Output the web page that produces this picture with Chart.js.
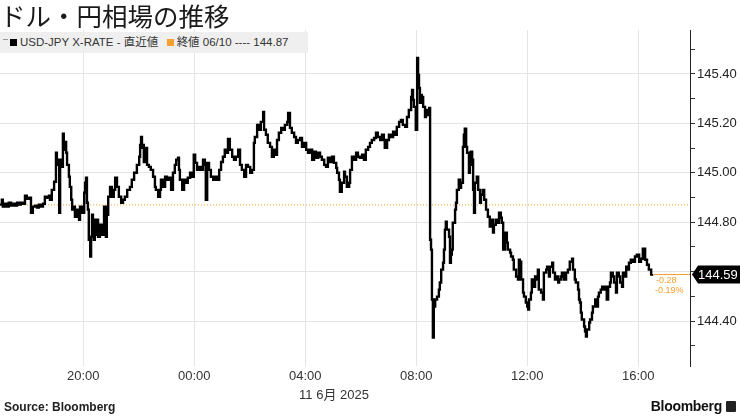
<!DOCTYPE html>
<html>
<head>
<meta charset="utf-8">
<script src="https://cdn.jsdelivr.net/npm/chart.js@4.4.1/dist/chart.umd.min.js"></script>
<style>
body{margin:0;background:#fff;width:740px;height:416px;overflow:hidden;position:relative;font-family:"Liberation Sans",Arial,sans-serif;}
canvas{position:absolute;left:0;top:0;}
#title{position:absolute;left:0;top:-1px;font-family:"Noto Sans CJK JP",sans-serif;font-size:25.5px;color:#1a1a1a;line-height:32px;}
#legend{position:absolute;left:0;top:32px;width:308px;height:21px;background:#efefef;font-size:11.5px;color:#333;line-height:21px;white-space:nowrap;font-family:"Liberation Sans","Noto Sans CJK JP",sans-serif;}
#legend .sq{display:inline-block;width:7px;height:7px;margin:0 3px 0 2px;vertical-align:0px;}
#legend .ico{display:inline-block;width:5px;height:6px;border-top:1px solid #999;margin-left:3px;position:relative;top:0px;}
#date{position:absolute;left:274px;width:120px;top:384px;text-align:center;font-size:13px;color:#333;font-family:"Liberation Sans","Noto Sans CJK JP",sans-serif;}
#source{position:absolute;left:4px;top:400px;font-size:12px;font-weight:bold;color:#222;}
#brand{position:absolute;right:18px;top:398px;font-size:14px;font-weight:bold;color:#111;letter-spacing:-0.3px;}
#brandIco{position:absolute;right:4px;top:401px;width:10px;height:11px;background:#222;border-radius:1px;}
</style>
</head>
<body>
<canvas id="c" width="740" height="416"></canvas>
<div id="title">ドル・円相場の推移</div>
<div id="legend"><span class="ico"></span><span class="sq" style="background:#000"></span>USD-JPY X-RATE - 直近値 &nbsp;<span class="sq" style="background:#f5a030"></span>終値 06/10 ---- 144.87</div>
<div id="date">11 6月 2025</div>
<div id="source">Source: Bloomberg</div>
<div id="brand">Bloomberg</div>
<div id="brandIco"></div>
<script>
// minutes since 06/10 00:00 (JST)
var times = [1020,1024,1026,1031,1035,1039,1044,1048,1052,1057,1061,1065,1070,1074,1078,1083,1087,1091,1096,1100,1104,1109,1113,1117,1122,1126,1128,1132,1137,1141,1143,1145,1148,1150,1154,1156,1158,1161,1163,1165,1169,1171,1174,1176,1178,1182,1186,1191,1193,1197,
1202,1204,1206,1208,1210,1212,1215,1217,1219,1221,1223,1225,1228,1230,1232,1236,1241,1245,1249,1251,1254,1258,1262,1266,1269,1273,1277,1282,1286,1290,1295,1301,1305,1310,1316,1321,1323,1325,1327,1329,1331,1334,1338,1342,1346,1351,1355,1357,1362,1366,
1368,1372,1377,1381,1385,1390,1394,1398,1401,1405,1407,1409,1414,1418,1422,1426,1431,1435,1439,1442,1446,1450,1455,1459,1463,1465,1468,1472,1476,1481,1485,1489,1494,1498,1502,1506,1511,1513,1517,1522,1526,1530,1535,1539,1543,1548,1552,1556,1561,1565,
1569,1571,1576,1580,1584,1589,1591,1595,1599,1604,1608,1612,1615,1619,1623,1628,1632,1636,1641,1643,1647,1651,1656,1660,1664,1669,1673,1677,1682,1686,1690,1695,1699,1703,1708,1712,1716,1721,1725,1729,1734,1738,1742,1747,1749,1753,1755,1759,1764,1766,
1770,1775,1777,1781,1785,1790,1794,1798,1803,1807,1811,1816,1820,1824,1829,1833,1837,1842,1846,1850,1852,1857,1861,1865,1870,1874,1878,1883,1887,1891,1896,1900,1904,1909,1911,1913,1915,1919,1922,1924,1926,1928,1930,1932,1935,1939,1941,1945,1948,1950,
1952,1954,1956,1958,1961,1965,1969,1971,1974,1978,1980,1982,1984,1986,1991,1993,1995,1997,1999,2004,2006,2008,2012,2015,2017,2021,2023,2025,2028,2030,2034,2036,2038,2041,2043,2045,2047,2051,2054,2058,2060,2064,2067,2071,2075,2079,2082,2086,2088,2092,
2095,2099,2103,2105,2108,2112,2116,2118,2123,2125,2129,2131,2136,2140,2142,2144,2147,2151,2153,2157,2160,2162,2164,2168,2170,2175,2177,2181,2183,2185,2190,2194,2196,2201,2203,2207,2209,2214,2216,2220,2222,2227,2229,2233,2235,2239,2244,2248,2252,2257,
2259,2263,2265,2270,2272,2274,2276,2278,2283,2285,2287,2289,2294,2296,2300,2302,2307,2309,2313,2315,2319,2322,2326,2328,2332,2335,2339,2341,2345,2348,2352,2354,2358,2361,2365,2367,2371,2374,2378,2380,2384,2389,2393,2397,2402,2406,2410,2415,2419,2423,
2428,2430];
var prices = [144.871,144.891,144.863,144.875,144.863,144.879,144.867,144.875,144.867,144.879,144.871,144.879,144.875,144.907,144.895,144.899,144.838,144.863,144.867,144.859,144.871,144.863,144.875,144.903,144.899,144.907,144.891,144.931,144.964,145.081,145.032,145.053,144.838,145.053,145.024,145.158,145.093,145.125,145.081,145.032,144.984,144.943,144.891,144.851,144.863,144.822,144.851,144.810,144.863,144.838,
144.919,144.960,144.980,144.879,144.851,144.729,144.661,144.741,144.830,144.770,144.729,144.810,144.749,144.810,144.741,144.790,144.749,144.863,144.741,144.830,144.903,144.943,144.903,144.931,144.980,144.943,144.903,144.879,144.891,144.903,144.931,144.943,144.972,145.000,145.032,145.065,145.113,145.145,145.101,145.113,145.044,145.101,145.032,145.024,145.012,144.984,144.943,144.931,144.903,144.931,
144.972,144.943,144.984,144.972,144.980,144.931,145.000,145.032,145.053,145.061,145.012,144.972,144.931,144.972,144.960,144.980,145.000,144.984,145.073,145.040,145.012,145.024,145.012,145.053,145.032,144.891,145.040,145.012,144.984,144.972,144.984,144.972,145.012,145.044,145.065,145.093,145.081,145.137,145.093,145.065,145.053,145.065,145.093,145.032,145.012,144.984,145.032,145.024,145.000,145.012,
145.121,145.145,145.194,145.174,145.206,145.246,145.174,145.154,145.121,145.105,145.065,145.093,145.073,145.133,145.162,145.182,145.174,145.194,145.206,145.242,145.182,145.162,145.145,145.121,145.133,145.141,145.105,145.121,145.093,145.081,145.093,145.053,145.085,145.061,145.081,145.065,145.053,145.032,145.024,145.061,145.044,145.065,145.040,145.020,145.000,144.972,144.923,144.960,145.004,144.984,
144.943,144.960,145.012,145.065,145.053,145.081,145.065,145.061,145.073,145.053,145.093,145.105,145.121,145.133,145.141,145.162,145.145,145.133,145.154,145.133,145.101,145.133,145.154,145.145,145.166,145.154,145.186,145.206,145.214,145.194,145.186,145.226,145.254,145.307,145.335,145.295,145.267,145.174,145.465,145.396,145.343,145.283,145.315,145.307,145.267,145.226,145.254,145.234,145.262,144.729,
144.689,144.487,144.333,144.459,144.487,144.499,144.527,144.556,144.608,144.636,144.689,144.770,144.802,144.770,144.741,144.636,144.669,144.689,144.798,144.851,144.879,144.931,144.972,144.939,144.960,145.105,145.154,145.178,145.105,145.081,145.000,145.032,145.085,145.053,144.931,144.838,144.960,144.984,144.931,144.879,144.911,144.931,144.891,144.851,144.822,144.782,144.810,144.758,144.790,144.810,
144.798,144.838,144.818,144.798,144.689,144.758,144.717,144.689,144.677,144.661,144.648,144.608,144.580,144.568,144.648,144.640,144.568,144.515,144.499,144.475,144.459,144.446,144.487,144.515,144.568,144.539,144.580,144.568,144.608,144.527,144.515,144.487,144.596,144.608,144.620,144.580,144.620,144.636,144.596,144.568,144.580,144.556,144.568,144.580,144.596,144.568,144.596,144.608,144.640,144.652,
144.608,144.568,144.556,144.527,144.487,144.475,144.434,144.406,144.378,144.358,144.337,144.366,144.394,144.406,144.434,144.459,144.487,144.459,144.499,144.515,144.527,144.539,144.527,144.539,144.487,144.539,144.556,144.596,144.580,144.556,144.515,144.596,144.580,144.556,144.539,144.596,144.580,144.620,144.608,144.636,144.648,144.640,144.661,144.669,144.640,144.652,144.693,144.648,144.628,144.608,
144.588,144.59];

var prevClose = 144.87;
var lastPrice = 144.59;
var changeText = ['-0.28', '-0.19%'];
var xTicks = [1200, 1440, 1680, 1920, 2160, 2400];
var yTicks = [144.3, 144.4, 144.5, 144.6, 144.7, 144.8, 144.9, 145.0, 145.1, 145.2, 145.3, 145.4, 145.5];
var yLabels = [144.4, 144.8, 145.0, 145.2, 145.4];
var xMin = 1020, xMax = 2512, yMin = 144.218, yMax = 145.578;

var orange = '#f5a030';

var series = times.map(function(t, i) { return {x: t, y: prices[i]}; });
var refLine = [{x: xMin, y: prevClose}, {x: xMax, y: prevClose}];

function isMajor(v) { return Math.round(v * 10) % 2 === 0; }

var endLabel = {
  id: 'endLabel',
  afterDatasetsDraw: function(chart) {
    var ctx = chart.ctx, x = chart.scales.x, y = chart.scales.y, area = chart.chartArea;
    var lx = x.getPixelForValue(times[times.length - 1]);
    var ly = Math.round(y.getPixelForValue(lastPrice)) + 0.5;
    ctx.save();
    ctx.strokeStyle = orange;
    ctx.lineWidth = 1;
    ctx.beginPath();
    ctx.moveTo(lx + 2, ly);
    ctx.lineTo(area.right, ly);
    ctx.stroke();
    var bx = area.right + 2, bh = 18;
    ctx.fillStyle = '#000';
    ctx.beginPath();
    ctx.moveTo(bx, ly);
    ctx.lineTo(bx + 6, ly - bh / 2);
    ctx.lineTo(740, ly - bh / 2);
    ctx.lineTo(740, ly + bh / 2);
    ctx.lineTo(bx + 6, ly + bh / 2);
    ctx.closePath();
    ctx.fill();
    ctx.fillStyle = '#fff';
    ctx.font = '13px "Liberation Sans"';
    ctx.textBaseline = 'middle';
    ctx.textAlign = 'left';
    ctx.fillText(lastPrice.toFixed(2), bx + 6, ly + 1);
    ctx.fillStyle = orange;
    ctx.font = '9px "Liberation Sans"';
    ctx.fillText(changeText[0], lx + 4, ly + 6);
    ctx.fillText(changeText[1], lx + 3, ly + 16);
    ctx.restore();
  }
};

new Chart(document.getElementById('c'), {
  type: 'line',
  data: {
    datasets: [{
      data: series,
      borderColor: '#000',
      borderWidth: 2.4,
      pointRadius: 0,
      stepped: true,
      order: 1
    }, {
      data: refLine,
      borderColor: orange,
      borderWidth: 1,
      borderDash: [1, 2],
      pointRadius: 0,
      order: 2
    }]
  },
  options: {
    responsive: false,
    animation: false,
    layout: {padding: {top: 30, left: 0, right: 0, bottom: 0}},
    plugins: {legend: {display: false}, tooltip: {enabled: false}},
    scales: {
      x: {
        type: 'linear',
        min: xMin,
        max: xMax,
        afterBuildTicks: function(s) { s.ticks = xTicks.map(function(v) { return {value: v}; }); },
        afterFit: function(s) { s.height = 50; },
        grid: {color: '#e4e4e4', drawTicks: false},
        border: {display: false},
        ticks: {
          padding: 3,
          color: '#333',
          font: {family: 'Liberation Sans', size: 13},
          maxRotation: 0,
          callback: function(v) {
            var h = Math.floor(v / 60) % 24;
            return (h < 10 ? '0' : '') + h + ':00';
          }
        }
      },
      y: {
        position: 'right',
        min: yMin,
        max: yMax,
        afterBuildTicks: function(s) { s.ticks = yTicks.map(function(v) { return {value: v}; }); },
        afterFit: function(s) { s.width = 50; },
        grid: {
          color: function(c) { return c.tick && isMajor(c.tick.value) ? '#e4e4e4' : 'rgba(0,0,0,0)'; },
          tickColor: '#333',
          tickLength: 5
        },
        border: {display: true, color: '#222', width: 1},
        ticks: {
          padding: 2,
          color: '#222',
          font: {family: 'Liberation Sans', size: 13},
          callback: function(v) {
            for (var i = 0; i < yLabels.length; i++) {
              if (Math.abs(yLabels[i] - v) < 1e-6) return v.toFixed(2);
            }
            return '';
          }
        }
      }
    }
  },
  plugins: [endLabel]
});
</script>
</body>
</html>
